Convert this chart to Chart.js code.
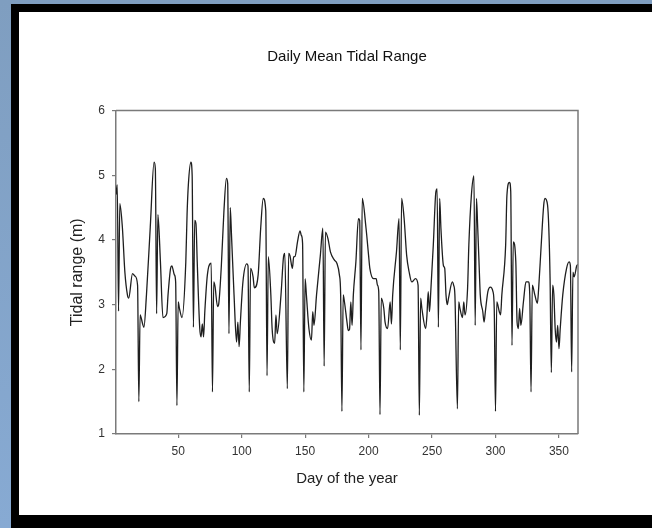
<!DOCTYPE html>
<html>
<head>
<meta charset="utf-8">
<script src="https://cdn.jsdelivr.net/npm/chart.js@4.4.1/dist/chart.umd.min.js"></script>
<style>
  html, body { margin: 0; padding: 0; }
  body {
    width: 652px; height: 528px; position: relative; overflow: hidden;
    background: linear-gradient(to bottom, #7f9ec0, #87aad3);
  }
  #frame {
    position: absolute; left: 11px; top: 4px; right: 0; bottom: 0;
    background: #000;
  }
  #paper {
    position: absolute; left: 19px; top: 12px; right: 0; bottom: 13px;
    background: #fff;
  }
  #chart { position: absolute; left: 0; top: 0; }
</style>
</head>
<body>
<div id="frame"></div>
<div id="paper"></div>
<canvas id="chart" width="652" height="528"></canvas>
<script>
// Day of the year and the daily mean tidal range (m) on that day
const days = [
  1, 2, 3, 4, 6, 8, 10, 11, 14, 16, 18, 19, 20, 22, 23, 25, 28, 31, 32, 33,
  34, 36, 38, 41, 42, 44, 45, 47, 48, 49, 50, 51, 53, 56, 57, 58, 60, 61, 62, 63,
  64, 65, 67, 68, 69, 70, 71, 73, 76, 77, 78, 79, 81, 82, 84, 86, 88, 89, 90, 91,
  92, 94, 96, 97, 98, 99, 101, 104, 105, 106, 107, 109, 110, 113, 115, 117, 119, 120, 121, 123,
  124, 126, 127, 128, 131, 133, 134, 136, 137, 138, 140, 141, 142, 144, 146, 147, 148, 149, 150, 151,
  153, 155, 156, 157, 159, 162, 164, 165, 166, 168, 170, 173, 175, 177, 178, 179, 180, 181, 183, 184,
  185, 186, 187, 188, 190, 192, 193, 194, 195, 198, 200, 201, 204, 206, 207, 208, 209, 210, 212, 213,
  215, 217, 218, 219, 222, 224, 225, 226, 228, 230, 232, 234, 237, 239, 240, 241, 242, 245, 246, 247,
  248, 249, 251, 253, 254, 255, 256, 257, 259, 260, 261, 262, 263, 266, 267, 268, 270, 271, 272, 274,
  275, 276, 278, 279, 281, 283, 284, 285, 286, 287, 288, 290, 291, 292, 294, 296, 298, 299, 300, 301,
  303, 304, 305, 308, 309, 311, 312, 313, 314, 316, 317, 318, 319, 320, 322, 324, 326, 327, 328, 329,
  331, 333, 334, 336, 338, 339, 341, 342, 343, 344, 345, 346, 347, 348, 349, 350, 351, 353, 356, 358,
  359, 360, 361, 362, 364, 365
];
const tidalRange = [
  4.70, 4.85, 2.90, 4.56, 4.20, 3.50, 3.15, 3.10, 3.48, 3.44, 3.30, 1.50, 2.84, 2.70, 2.65, 3.15, 4.20, 5.20, 5.10, 2.86,
  4.39, 3.66, 2.80, 2.86, 3.15, 3.56, 3.60, 3.46, 3.35, 1.44, 3.04, 2.94, 2.80, 3.66, 4.40, 4.85, 5.20, 5.00, 2.65, 4.30,
  4.25, 3.66, 2.63, 2.50, 2.70, 2.50, 2.90, 3.46, 3.64, 1.65, 3.35, 3.28, 2.97, 3.02, 3.60, 4.43, 4.95, 4.87, 2.55, 4.50,
  4.07, 3.15, 2.42, 2.73, 2.35, 2.73, 3.35, 3.63, 3.60, 1.65, 3.56, 3.43, 3.26, 3.46, 4.18, 4.64, 4.45, 1.90, 3.74, 3.15,
  2.63, 2.40, 2.84, 2.55, 3.15, 3.74, 3.79, 1.70, 3.79, 3.76, 3.56, 3.74, 3.74, 3.97, 4.14, 4.07, 3.95, 1.65, 3.40, 3.15,
  2.63, 2.45, 2.89, 2.68, 3.15, 3.76, 4.18, 2.05, 4.12, 4.02, 3.81, 3.69, 3.64, 3.46, 3.15, 1.35, 3.15, 3.04, 2.73, 2.60,
  2.62, 3.04, 2.68, 3.15, 3.66, 4.33, 4.30, 2.30, 4.64, 4.18, 3.76, 3.56, 3.40, 3.40, 3.30, 3.20, 1.30, 3.10, 2.94, 2.73,
  2.63, 3.04, 2.70, 3.15, 3.82, 4.33, 2.30, 4.64, 4.33, 3.76, 3.50, 3.35, 3.40, 3.30, 1.29, 3.10, 2.94, 2.63, 2.84, 3.20,
  2.89, 3.20, 3.92, 4.74, 4.79, 2.65, 4.64, 4.18, 3.60, 3.56, 3.15, 3.00, 3.10, 3.35, 3.30, 3.15, 1.39, 3.04, 2.94, 2.80,
  3.04, 2.84, 3.25, 3.92, 4.69, 4.99, 2.68, 4.64, 4.18, 3.66, 3.15, 2.89, 2.73, 2.89, 3.20, 3.27, 3.20, 2.94, 1.35, 3.04,
  2.89, 2.84, 3.15, 3.92, 4.69, 4.89, 4.75, 2.37, 3.97, 3.66, 2.73, 2.63, 2.94, 2.68, 3.04, 3.35, 3.35, 3.15, 1.65, 3.30,
  3.15, 3.02, 3.25, 3.92, 4.54, 4.64, 4.54, 4.18, 3.40, 1.95, 3.30, 3.15, 2.63, 2.42, 2.68, 2.32, 2.63, 3.15, 3.56, 3.66,
  3.60, 1.96, 3.50, 3.43, 3.60, 3.62
];

// Axis tick labels
const xTicks = [50, 100, 150, 200, 250, 300, 350];
const yTicks = [1, 2, 3, 4, 5, 6];

const axisGray = '#7a7a7a';
const labelColor = '#333';
const family = "'Liberation Sans', Arial, sans-serif";

// Closes the plot area with a frame on the top and right sides
const plotFrame = {
  id: 'plotFrame',
  afterDraw(chart) {
    const { ctx, chartArea: a } = chart;
    ctx.save();
    ctx.strokeStyle = axisGray;
    ctx.lineWidth = 1.5;
    ctx.beginPath();
    ctx.moveTo(a.left, a.top);
    ctx.lineTo(a.right, a.top);
    ctx.lineTo(a.right, a.bottom);
    ctx.stroke();
    ctx.restore();
  }
};

new Chart(document.getElementById('chart'), {
  type: 'line',
  data: {
    datasets: [{
      data: days.map((d, i) => ({ x: d, y: tidalRange[i] })),
      borderColor: '#1e1e1e',
      borderWidth: 1.3,
      pointRadius: 0,
      fill: false,
      cubicInterpolationMode: 'monotone'
    }]
  },
  options: {
    responsive: false,
    animation: false,
    layout: { padding: { left: 0, right: 74, top: 0, bottom: 0 } },
    plugins: {
      legend: { display: false },
      tooltip: { enabled: false },
      title: {
        display: true,
        fullSize: false,
        text: 'Daily Mean Tidal Range',
        color: '#111',
        font: { family, size: 15, weight: 'normal' },
        padding: { top: 48, bottom: 44.5 }
      }
    },
    scales: {
      x: {
        type: 'linear',
        min: 1,
        max: 365,
        afterBuildTicks(scale) { scale.ticks = xTicks.map(v => ({ value: v })); },
        afterFit(scale) { scale.height = 94; },
        grid: { display: true, drawOnChartArea: false, drawTicks: true, tickLength: 4, color: axisGray, lineWidth: 1.2 },
        border: { display: true, color: axisGray, width: 1.5 },
        ticks: { color: labelColor, font: { family, size: 12 }, padding: 6, maxRotation: 0 },
        title: {
          display: true,
          text: 'Day of the year',
          color: '#222',
          font: { family, size: 15 },
          padding: { top: 0, bottom: 40 }
        }
      },
      y: {
        type: 'linear',
        min: 1,
        max: 6,
        afterBuildTicks(scale) { scale.ticks = yTicks.map(v => ({ value: v })); },
        afterFit(scale) { scale.width = 116; },
        grid: { display: true, drawOnChartArea: false, drawTicks: true, tickLength: 4, color: axisGray, lineWidth: 1.2 },
        border: { display: true, color: axisGray, width: 1.5 },
        ticks: { color: labelColor, font: { family, size: 12 }, padding: 7 },
        title: {
          display: true,
          text: 'Tidal range (m)',
          color: '#222',
          font: { family, size: 16 },
          padding: { top: 68, bottom: 0 }
        }
      }
    }
  },
  plugins: [plotFrame]
});
</script>
</body>
</html>
